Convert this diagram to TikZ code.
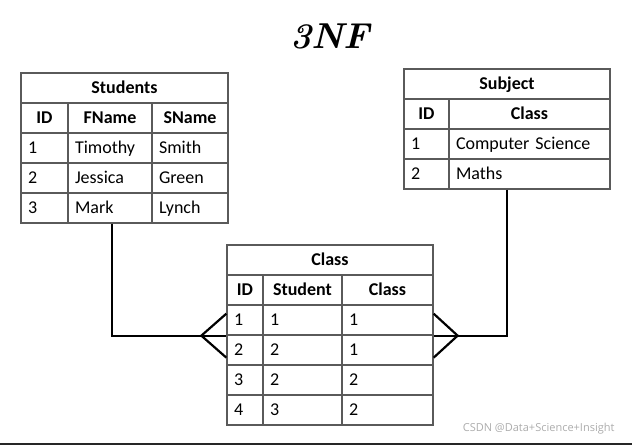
\documentclass[tikz,border=0pt]{standalone}
\usepackage{fontspec}
\newfontfamily\calibri{Carlito}
\newfontfamily\wmfont{Open Sans}
\usetikzlibrary{calc}
\definecolor{tabline}{RGB}{90,90,90}

\begin{document}
\begin{tikzpicture}[x=1pt, y=-1pt,
  cell/.style={draw=tabline, line width=1.3pt, minimum height=30pt, text width=#1,
    inner xsep=7pt, inner ysep=0pt, align=left, text height=13pt, text depth=1.5pt,
    font=\calibri\fontsize{18}{20}\selectfont},
  head/.style={cell=#1, align=center, font=\calibri\bfseries\fontsize{18}{20}\selectfont},
  link/.style={line width=2.2pt, black}]

\useasboundingbox (0,0) rectangle (632,445);

\node [anchor=base, font=\bfseries\itshape\fontsize{36}{40}\selectfont] (title) at (330,48) {3NF};

% Students
\node [head=193pt] (stu-title) at (124.5,88) {Students};
\foreach \x/\w/\t [count=\k] in {44.5/33pt/ID, 110/70pt/FName, 190/62pt/SName}
  \node [head=\w] (stu-2-\k) at (\x,118) {\t};
\foreach \id/\fn/\sn [count=\r from 3] in {1/Timothy/Smith, 2/Jessica/Green, 3/Mark/Lynch} {
  \node [cell=33pt] (stu-\r-1) at (44.5,58+30*\r) {\id};
  \node [cell=70pt] (stu-\r-2) at (110,58+30*\r) {\fn};
  \node [cell=62pt] (stu-\r-3) at (190,58+30*\r) {\sn};
}

% Subject
\node [head=192pt] (sub-title) at (507,84) {Subject};
\foreach \x/\w/\t [count=\k] in {426.5/31pt/ID, 529.5/147pt/Class}
  \node [head=\w] (sub-2-\k) at (\x,114) {\t};
\foreach \id/\cl [count=\r from 3] in {1/Computer Science, 2/Maths} {
  \node [cell=31pt] (sub-\r-1) at (426.5,54+30*\r) {\id};
  \node [cell=147pt] (sub-\r-2) at (529.5,54+30*\r) {\cl};
}

% Class
\node [head=192pt] (cls-title) at (330,260) {Class};
\foreach \x/\w/\t [count=\k] in {245/22pt/ID, 302.5/65pt/Student, 387.5/77pt/Class}
  \node [head=\w] (cls-2-\k) at (\x,290) {\t};
\foreach \id/\st/\cl [count=\r from 3] in {1/1/1, 2/2/1, 3/2/2, 4/3/2} {
  \node [cell=22pt] (cls-\r-1) at (245,230+30*\r) {\id};
  \node [cell=65pt] (cls-\r-2) at (302.5,230+30*\r) {\st};
  \node [cell=77pt] (cls-\r-3) at (387.5,230+30*\r) {\cl};
}

% links with crow's feet
\draw [link] ([xshift=2pt]stu-5-2.south) |- (cls-3-1.south west);
\draw [link] ($(cls-3-1.south west)+(0,-22)$) -- ++(-25,22) -- ++(25,22);

\draw [link] (sub-title.center |- sub-4-2.south) |- (cls-3-3.south east);
\draw [link] ($(cls-3-3.south east)+(0,-22)$) -- ++(24,22) -- ++(-24,22);

\node [anchor=east, text=gray!65, font=\wmfont\fontsize{11}{13}\selectfont] (mark) at (618,429) {CSDN @Data+Science+Insight};

\draw [line width=2pt, black!85] (0,444) -- (632,444);

\end{tikzpicture}
\end{document}
